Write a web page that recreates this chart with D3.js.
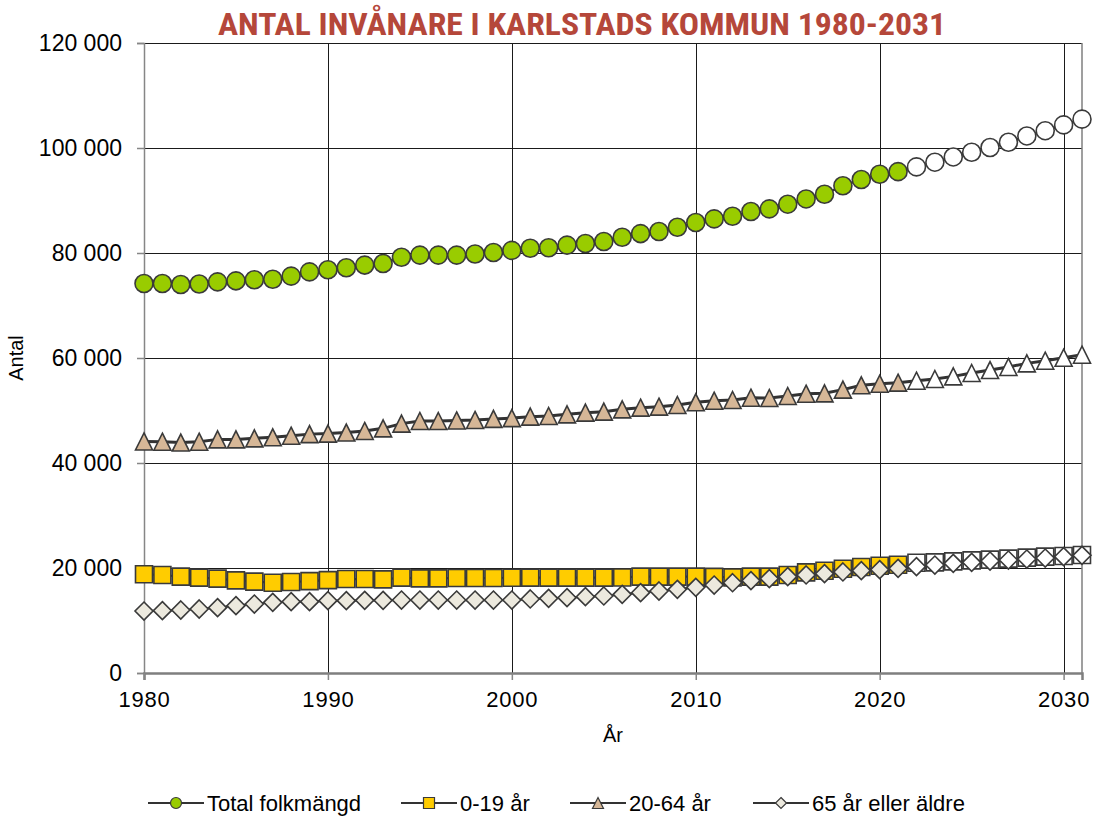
<!DOCTYPE html>
<html>
<head>
<meta charset="utf-8">
<script src="https://cdn.jsdelivr.net/npm/d3@7"></script>
<style>
  body { margin: 0; background: #fff; }
  svg { display: block; font-family: "Liberation Sans", Arial, sans-serif; }
</style>
</head>
<body>
<div class="canvas"></div>
<script>
"use strict";

// Years on the x axis, last year with real figures (later ones are forecast)
const years = d3.range(1980, 2032);
const lastActualYear = 2021;

const total = [
  74200, 74200, 74000, 74100, 74500, 74700, 74900, 75000, 75600, 76400,
  76800, 77200, 77700, 78000, 79200, 79600, 79600, 79600, 79800, 80100,
  80500, 80900, 81000, 81500, 81800, 82200, 83000, 83700, 84100, 84900,
  85800, 86500, 87000, 87900, 88400, 89300, 90300, 91200, 92800, 94000,
  95000, 95500, 96400, 97300, 98300, 99200, 100100, 101100, 102300, 103300,
  104400, 105500
];
const age0to19 = [
  18800, 18670, 18350, 18160, 17970, 17650, 17400, 17200, 17330, 17500,
  17700, 17900, 17900, 17840, 18160, 18030, 18030, 18100, 18100, 18100,
  18150, 18160, 18160, 18160, 18160, 18160, 18200, 18350, 18350, 18350,
  18350, 18300, 18200, 18350, 18350, 18670, 19170, 19490, 19870, 20190,
  20440, 20630, 21000, 21080, 21270, 21460, 21590, 21780, 21970, 22160,
  22290, 22480
];
const age20to64 = [
  44100, 44060, 43900, 44060, 44500, 44500, 44700, 44900, 45200, 45500,
  45600, 45800, 46100, 46600, 47500, 48000, 48000, 48100, 48200, 48400,
  48550, 48830, 48950, 49270, 49590, 49780, 50220, 50540, 50730, 51050,
  51560, 51870, 52000, 52440, 52380, 52760, 53200, 53270, 53970, 54800,
  55100, 55300, 55680, 56000, 56500, 57140, 57710, 58290, 58980, 59490,
  60060, 60630
];
const age65plus = [
  11800, 11870, 12000, 12190, 12440, 12830, 13140, 13460, 13590, 13590,
  13780, 13780, 13840, 13840, 13900, 13900, 13900, 13900, 13900, 13900,
  13900, 14100, 14220, 14350, 14540, 14670, 14980, 15300, 15620, 15940,
  16320, 16760, 17200, 17590, 17970, 18350, 18670, 18920, 19240, 19490,
  19680, 19940, 20250, 20570, 20890, 21080, 21330, 21520, 21710, 21900,
  22160, 22410
];

const yTicks = [0, 20000, 40000, 60000, 80000, 100000, 120000];
const xTicks = [1980, 1990, 2000, 2010, 2020, 2030];

const seriesNames = ["Total folkmängd", "0-19 år", "20-64 år", "65 år eller äldre"];
const seriesValues = [total, age0to19, age20to64, age65plus];
const seriesShapes = ["circle", "square", "triangle", "diamond"];
const seriesFills = ["#99cc00", "#ffcc00", "#d6b797", "#ece9de"];

const width = 1095;
const height = 816;
const dims = { left: 144, right: 1082, top: 43, bottom: 673 };

const svg = d3.select(".canvas").append("svg")
  .attr("width", width)
  .attr("height", height);

svg.append("rect").attr("width", width).attr("height", height).attr("fill", "#fff");

const x = d3.scaleLinear().domain([1980, 2031]).range([dims.left, dims.right]);
const y = d3.scaleLinear().domain([0, 120000]).range([dims.bottom, dims.top]);

const sv = d3.formatLocale({ decimal: ",", thousands: "\u00a0", grouping: [3], currency: ["", " kr"] });
const fmt = sv.format(",d");

// gridlines
svg.append("g").selectAll("line")
  .data(yTicks.filter((d) => d > 0))
  .join("line")
  .attr("x1", dims.left).attr("x2", dims.right)
  .attr("y1", (d) => Math.round(y(d)) + 0.5).attr("y2", (d) => Math.round(y(d)) + 0.5)
  .attr("stroke", "#1a1a1a").attr("stroke-width", 1);

svg.append("g").selectAll("line")
  .data(xTicks.filter((d) => d > 1980))
  .join("line")
  .attr("x1", (d) => Math.round(x(d)) + 0.5).attr("x2", (d) => Math.round(x(d)) + 0.5)
  .attr("y1", dims.top).attr("y2", dims.bottom)
  .attr("stroke", "#1a1a1a").attr("stroke-width", 1);

// right border
svg.append("line")
  .attr("x1", dims.right).attr("x2", dims.right)
  .attr("y1", dims.top).attr("y2", dims.bottom)
  .attr("stroke", "#7f7f7f").attr("stroke-width", 1.5);

// axes
const yAxis = svg.append("g")
  .attr("transform", `translate(${dims.left},0)`)
  .call(d3.axisLeft(y).tickValues(yTicks).tickFormat(fmt).tickSize(7).tickPadding(15));
const xAxis = svg.append("g")
  .attr("transform", `translate(0,${dims.bottom})`)
  .call(d3.axisBottom(x).tickValues(xTicks).tickFormat(d3.format("d")).tickSize(7).tickPadding(11));

[yAxis, xAxis].forEach((ax) => {
  ax.selectAll("line").attr("stroke", "#868686").attr("stroke-width", 1.5);
  ax.selectAll("text").attr("fill", "#000").attr("font-family", "\"Liberation Sans\", Arial, sans-serif");
});
yAxis.select(".domain").attr("stroke", "#868686").attr("stroke-width", 1.5);
xAxis.select(".domain").attr("stroke", "#7f7f7f").attr("stroke-width", 2.5);
yAxis.selectAll("text").attr("font-size", 23);
xAxis.selectAll("text").attr("font-size", 22).attr("letter-spacing", 0.8);

// axis titles and heading
svg.append("text")
  .attr("transform", "translate(23,358) rotate(-90)")
  .attr("text-anchor", "middle")
  .attr("font-size", 20)
  .text("Antal");

svg.append("text")
  .attr("x", 613).attr("y", 742)
  .attr("text-anchor", "middle")
  .attr("font-size", 20)
  .text("År");

svg.append("text")
  .attr("x", 582).attr("y", 35)
  .attr("text-anchor", "middle")
  .attr("font-family", "\"Liberation Sans Narrow\", \"Roboto Condensed\", Arial, sans-serif")
  .attr("font-weight", "bold")
  .attr("font-size", 31)
  .attr("fill", "#b5473a")
  .attr("textLength", 728)
  .attr("lengthAdjust", "spacingAndGlyphs")
  .text("ANTAL INVÅNARE I KARLSTADS KOMMUN 1980-2031");

// marker paths centred on 0,0
function markerPath(shape, s) {
  const h = s / 2;
  if (shape === "circle") {
    return `M${-h},0A${h},${h} 0 1,0 ${h},0A${h},${h} 0 1,0 ${-h},0Z`;
  }
  if (shape === "square") return `M${-h},${-h}H${h}V${h}H${-h}Z`;
  if (shape === "triangle") return `M0,${-h}L${h},${h}H${-h}Z`;
  return `M0,${-h}L${h},0L0,${h}L${-h},0Z`;
}

const markerSize = { circle: 18, square: 17, triangle: 17, diamond: 18 };

const line = d3.line().x((d) => x(d.year)).y((d) => y(d.value));

seriesValues.forEach((values, i) => {
  const pts = years.map((year, j) => ({ year, value: values[j] }));
  const g = svg.append("g");
  g.append("path")
    .datum(pts)
    .attr("d", line)
    .attr("fill", "none")
    .attr("stroke", "#333")
    .attr("stroke-width", i === 2 ? 3 : 2.2);
  g.selectAll("path.marker")
    .data(pts)
    .join("path")
    .attr("class", "marker")
    .attr("transform", (d) => `translate(${x(d.year)},${y(d.value)})`)
    .attr("d", markerPath(seriesShapes[i], markerSize[seriesShapes[i]]))
    .attr("fill", (d) => (d.year <= lastActualYear ? seriesFills[i] : "#fff"))
    .attr("stroke", "#3a3a3a")
    .attr("stroke-width", 1.6);
});

// legend
const legendX = [148, 401, 570, 753];
const legend = svg.append("g").attr("transform", "translate(0,803)");
seriesNames.forEach((name, i) => {
  const lg = legend.append("g").attr("transform", `translate(${legendX[i]},0)`);
  lg.append("line")
    .attr("x1", 0).attr("x2", 56)
    .attr("stroke", "#333").attr("stroke-width", 2.2);
  lg.append("path")
    .attr("transform", "translate(28,0)")
    .attr("d", markerPath(seriesShapes[i], 11))
    .attr("fill", seriesFills[i])
    .attr("stroke", "#3a3a3a")
    .attr("stroke-width", 1.2);
  lg.append("text")
    .attr("x", 59).attr("y", 0)
    .attr("dy", "0.35em")
    .attr("font-size", 22)
    .text(name);
});
</script>
</body>
</html>
